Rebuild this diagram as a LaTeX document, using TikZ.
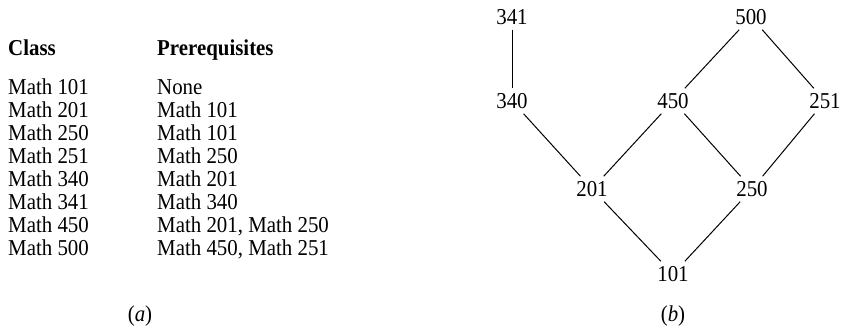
\documentclass[tikz,border=0pt]{standalone}
\usepackage{fontspec}
\setmainfont{Liberation Serif}[FakeStretch=0.92]
\begin{document}
\begin{tikzpicture}[x=1pt,y=-1pt,
  txt/.style={anchor=base west,inner sep=0pt,font=\fontsize{22.7}{26}\selectfont},
  hdr/.style={txt,font=\fontsize{22.7}{26}\selectfont\bfseries},
  vtx/.style={inner sep=5pt,font=\fontsize{22.7}{26}\selectfont,text depth=0pt},
  sublabel/.style={inner sep=0pt,font=\fontsize{22.7}{26}\selectfont},
  edge/.style={line width=1pt}]
\useasboundingbox (0,0) rectangle (841,328);
% table
\node[hdr] (hc) at (8,56) {Class};
\node[hdr] (hp) at (157,56) {Prerequisites};
\foreach \c/\p/\y [count=\i] in {101/None/95,201/Math 101/118,250/Math 101/141,251/Math 250/164,340/Math 201/187,341/Math 340/210,450/{Math 201, Math 250}/233,500/{Math 450, Math 251}/256}{
  \node[txt] (c\i) at (8,\y) {Math \c};
  \node[txt] (p\i) at (157,\y) {\p};
}
\node[sublabel] (la) at (140,316) {(\textit{a})};
% graph
\node[vtx] (n341) at (512,17) {341};
\node[vtx] (n500) at (751,17) {500};
\node[vtx] (n340) at (512,101) {340};
\node[vtx] (n450) at (673,101) {450};
\node[vtx] (n251) at (825,101) {251};
\node[vtx] (n201) at (592,189) {201};
\node[vtx] (n250) at (752,189) {250};
\node[vtx] (n101) at (673,274) {101};
\node[sublabel] (lb) at (673,316) {(\textit{b})};
\draw[edge] (n341) -- (n340);
\draw[edge] (n500) -- (n450);
\draw[edge] (n500) -- (n251);
\draw[edge] (n340) -- (n201);
\draw[edge] (n450) -- (n201);
\draw[edge] (n450) -- (n250);
\draw[edge] (n251) -- (n250);
\draw[edge] (n201) -- (n101);
\draw[edge] (n250) -- (n101);
\end{tikzpicture}
\end{document}
